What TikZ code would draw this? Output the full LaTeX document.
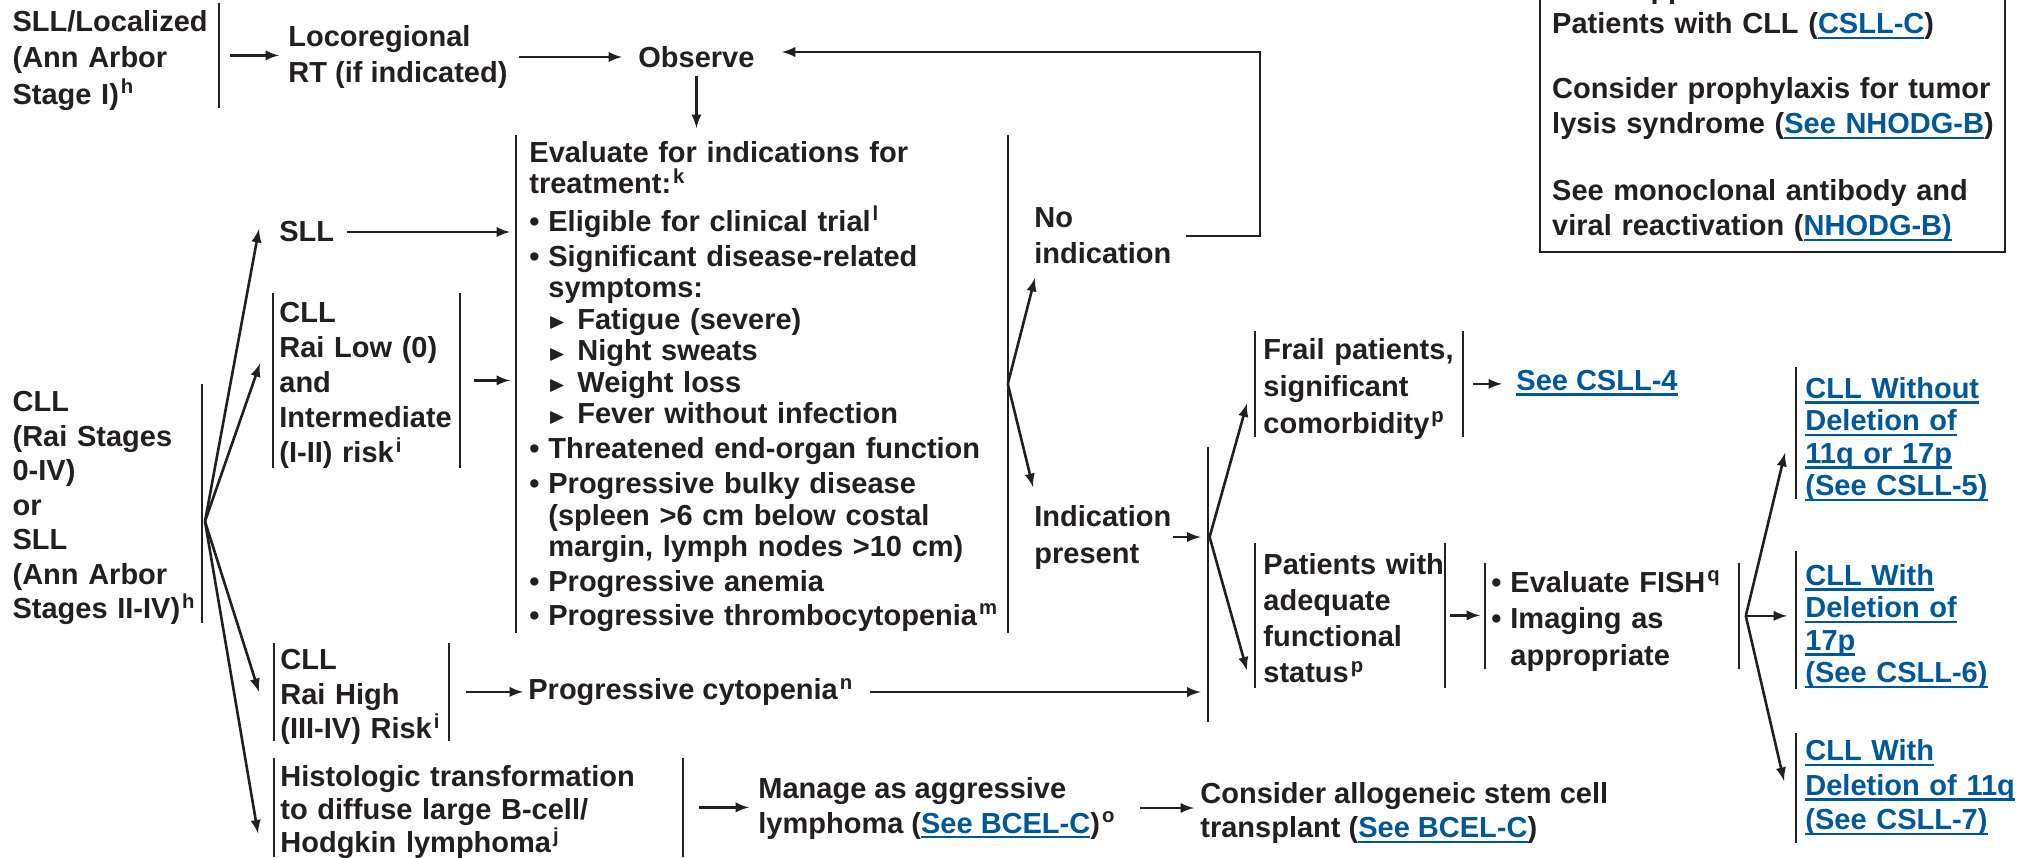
\documentclass[tikz,border=0pt]{standalone}
\usepackage{amssymb}
\usepackage{fontspec}
\setmainfont{Liberation Sans}

\definecolor{ink}{HTML}{231F20}
\definecolor{linkblue}{HTML}{00589B}

\newcommand\fs[1]{\fontsize{14.5pt}{#1pt}\selectfont\bfseries}
\newcommand\fnote[1]{\textsuperscript{\kern1pt #1}}
\newcommand\lnk[1]{\leavevmode{\color{linkblue}\setbox0=\hbox{#1}\rlap{\rule[-2.7pt]{\wd0}{1.2pt}}\box0}}
\newcommand\bul{\makebox[9.5pt][l]{\textbullet}}
\newcommand\cont{\hspace*{9.5pt}}
\newcommand\tri{\makebox[14.5pt][l]{\raisebox{0.4pt}{\fontsize{11pt}{11pt}\selectfont$\blacktriangleright$}}}
\newcommand\boxgap[1]{\leftskip=#1\rightskip=0pt plus 1fil minus 80pt\relax}

\tikzset{
  barsep/.style={execute at begin node={\boxgap{#1}}},
  drop/.style={execute at end node={\par\kern-#1}},
}
\tikzstyle{txt}=[inner sep=0pt, align=left, text=ink, font=\fs{17.5}]
\tikzstyle{bx}=[txt, anchor=north west, barsep=0pt, drop=5pt]
\tikzstyle{barline}=[draw=ink, line width=1.1pt]
\tikzstyle{lbar}=[append after command={(\tikzlastnode.north west) edge[barline] (\tikzlastnode.south west)}]
\tikzstyle{rbar}=[append after command={(\tikzlastnode.north east) edge[barline] (\tikzlastnode.south east)}]
\tikzstyle{arr}=[draw=ink, line width=1.3pt, -latex]

\begin{document}
\begin{tikzpicture}[x=0.5pt, y=-0.5pt]
  \useasboundingbox (0,0) rectangle (2024,857);

  % top row
  \node[bx, rbar, anchor=north east, text width=103pt, minimum height=52pt, font=\fs{18.25}] (loc) at (219,3) {SLL/Localized\\(Ann Arbor\\Stage I)\fnote{h}};
  \node[txt, anchor=west, font=\fs{18.25}] (rt) at (288,57) {Locoregional\\RT (if indicated)};
  \node[txt, anchor=west] (obs) at (638,57) {Observe};

  % left column
  \node[txt, anchor=west] (sll) at (279,232) {SLL};
  \node[bx, lbar, rbar, barsep=3pt, text width=93pt, minimum height=87pt, font=\fs{17.5}] (low) at (273,293) {CLL\\Rai Low (0)\\and\\Intermediate\\(I-II) risk\fnote{i}};
  \node[bx, rbar, anchor=north east, text width=94.5pt, minimum height=119pt, font=\fs{17.25}] (cll) at (202,384) {CLL\\(Rai Stages\\0-IV)\\or\\SLL\\(Ann Arbor\\Stages II-IV)\fnote{h}};
  \node[bx, lbar, rbar, barsep=3pt, text width=87pt, minimum height=48.5pt, font=\fs{17.25}] (high) at (274,643) {CLL\\Rai High\\(III-IV) Risk\fnote{i}};
  \node[bx, lbar, rbar, barsep=3pt, text width=204pt, minimum height=49pt, font=\fs{16.5}] (hist) at (274,758) {Histologic transformation\\to diffuse large B-cell/\\Hodgkin lymphoma\fnote{j}};
  \node[txt, anchor=west] (cyto) at (528,692) {Progressive cytopenia\fnote{n}};
  \node[txt, anchor=west] (mng) at (758,808) {Manage as aggressive\\lymphoma (\lnk{See BCEL-C})\fnote{o}};
  \node[txt, anchor=west, font=\fs{17}] (allo) at (1200,813) {Consider allogeneic stem cell\\transplant (\lnk{See BCEL-C})};

  % indications
  \node[bx, lbar, rbar, barsep=6.5pt, drop=-2.5pt, text width=245.5pt, minimum height=248.5pt, font=\fs{15.75}] (eval) at (516,135) {Evaluate for indications for\\treatment:\fnote{k}\\[3pt]
    \bul Eligible for clinical trial\fnote{l}\\[1.75pt]
    \bul Significant disease-related\\
    \cont symptoms:\\
    \cont\tri Fatigue (severe)\\
    \cont\tri Night sweats\\
    \cont\tri Weight loss\\
    \cont\tri Fever without infection\\[1.75pt]
    \bul Threatened end-organ function\\[1.75pt]
    \bul Progressive bulky disease\\
    \cont (spleen >6 cm below costal\\
    \cont margin, lymph nodes >10 cm)\\[1.5pt]
    \bul Progressive anemia\\[1.25pt]
    \bul Progressive thrombocytopenia\fnote{m}};
  \node[txt, anchor=west, font=\fs{18}] (noind) at (1034,236) {No\\indication};
  \node[txt, anchor=west, font=\fs{18.5}] (ind) at (1034,537) {Indication\\present};
  \node[lbar, inner sep=0pt, minimum height=137.5pt] (jn) at (1209,584.5) {};

  % right column
  \node[bx, lbar, rbar, barsep=4pt, text width=103.5pt, minimum height=52.5pt, font=\fs{18.5}] (frail) at (1255,331) {Frail patients,\\significant\\comorbidity\fnote{p}};
  \node[txt, anchor=west] (csll4) at (1516,383) {\lnk{See CSLL-4}};
  \node[bx, lbar, rbar, barsep=4pt, drop=-2pt, text width=94.5pt, minimum height=72pt, font=\fs{18}] (pat) at (1255,543) {Patients with\\adequate\\functional\\status\fnote{p}};
  \node[bx, lbar, rbar, barsep=3pt, text width=126.5pt, minimum height=52.5pt, font=\fs{18.25}] (fish) at (1485,563) {\bul Evaluate FISH\fnote{q}\\\bul Imaging as\\\cont appropriate};
  \node[bx, lbar, barsep=4.5pt, drop=1.5pt, text width=110pt, minimum height=65.5pt, font=\fs{16.25}] (cll5) at (1796,367) {\lnk{CLL Without}\\\lnk{Deletion of}\\\lnk{11q or 17p}\\\lnk{(See CSLL-5)}};
  \node[bx, lbar, barsep=4.5pt, drop=1.5pt, text width=110pt, minimum height=68.5pt, font=\fs{16.25}] (cll6) at (1796,551) {\lnk{CLL With}\\\lnk{Deletion of}\\\lnk{17p}\\\lnk{(See CSLL-6)}};
  \node[bx, lbar, barsep=4.5pt, drop=-5pt, text width=110pt, minimum height=54.5pt, font=\fs{17.25}] (cll7) at (1796,733) {\lnk{CLL With}\\\lnk{Deletion of 11q}\\\lnk{(See CSLL-7)}};

  % note box
  \node[txt, draw=ink, line width=1.2pt, anchor=south west, inner xsep=6pt, inner ysep=5pt, text width=220.5pt, barsep=0pt] (note) at (1539,253) {See Supportive Care for\\Patients with CLL (\lnk{CSLL-C})\\[15pt]Consider prophylaxis for tumor\\lysis syndrome (\lnk{See NHODG-B})\\[16pt]See monoclonal antibody and\\viral reactivation (\lnk{NHODG-B)}};

  % connectors
  \draw[arr, shorten <=5.5pt, shorten >=4.5pt] (loc.east) -- (loc.east -| rt.west);
  \draw[arr, shorten <=5.5pt, shorten >=8pt] (rt.east) -- (rt.east -| obs.west);
  \draw[arr, shorten <=4pt, shorten >=3.5pt] (obs.south) -- (obs.south |- eval.north);
  \coordinate (fb) at (1260,52);
  \draw[arr, shorten >=13.5pt] ([xshift=7pt]noind.east) -| (fb) -- (fb -| obs.east);

  \draw[arr, shorten <=6pt, shorten >=3pt] (sll.east) -- (sll.east -| eval.west);
  \draw[arr, shorten <=7pt, shorten >=3pt] (low.east) -- (low.east -| eval.west);
  \coordinate (cfan) at ([xshift=1.5pt, yshift=-9pt]cll.east);
  \draw[arr] (cfan) -- ([xshift=-10pt, yshift=1.5pt]sll.west);
  \draw[arr] (cfan) -- ([xshift=-6.5pt, yshift=8.5pt]low.west);
  \draw[arr] (cfan) -- ([xshift=-7.5pt]high.west);
  \draw[arr] (cfan) -- ([xshift=-8pt, yshift=-13pt]hist.west);
  \draw[arr, shorten <=8.5pt, shorten >=2.5pt] (high.east) -- (high.east -| cyto.west);
  \draw[arr, shorten <=8pt, shorten >=3.5pt] (cyto.east) -- (cyto.east -| jn.west);
  \draw[arr, shorten <=8pt, shorten >=4.5pt] (hist.east) -- (hist.east -| mng.west);
  \draw[arr, shorten <=12pt, shorten >=3pt] (mng.east) -- (mng.east -| allo.west);

  \draw[arr] (eval.east) -- ([xshift=0.5pt, yshift=-21pt]noind.west);
  \draw[arr] (eval.east) -- ([xshift=-0.5pt, yshift=25pt]ind.west);
  \draw[arr, shorten <=0.5pt, shorten >=3.5pt] (ind.east) -- (ind.east -| jn.west);
  \coordinate (jfan) at (jn.west |- ind.east);
  \draw[arr] ([xshift=1pt]jfan) -- ([xshift=-4pt, yshift=-9.75pt]frail.west);
  \draw[arr] ([xshift=1pt]jfan) -- ([xshift=-4pt, yshift=-27.5pt]pat.west);
  \draw[arr, shorten <=5pt, shorten >=7pt] (frail.east) -- (frail.east -| csll4.west);
  \draw[arr, shorten <=2.5pt, shorten >=2.5pt] (pat.east) -- (pat.east -| fish.west);
  \coordinate (ffan) at ([xshift=3.5pt]fish.east);
  \draw[arr] (ffan) -- ([xshift=-5.5pt, yshift=-10pt]cll5.west);
  \draw[arr, shorten >=4.5pt] (ffan) -- (ffan -| cll6.west);
  \draw[arr] (ffan) -- ([xshift=-6pt, yshift=3.5pt]cll7.west);
\end{tikzpicture}
\end{document}
